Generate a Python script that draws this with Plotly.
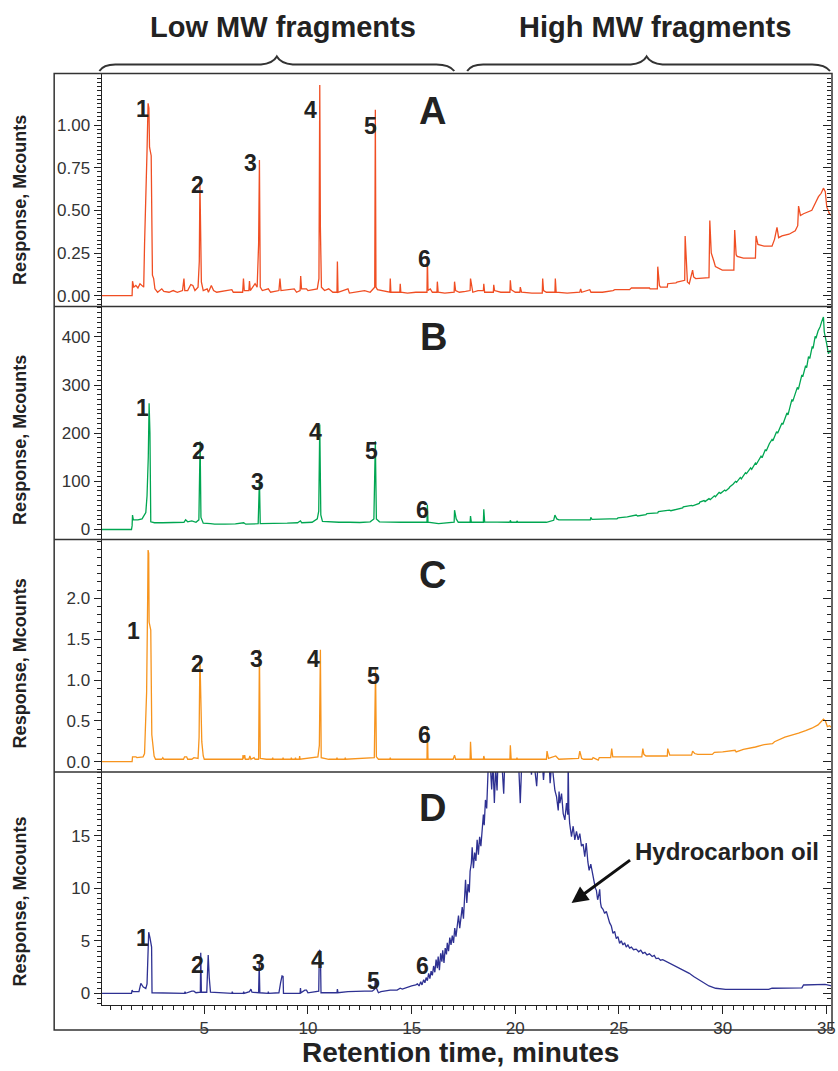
import plotly.graph_objects as go

W, H = 838, 1071
FONT = "Liberation Sans, Arial, sans-serif"

# ---------------- data (retention time in minutes, response) ----------------
tA = [0.05, 1.52, 1.54, 1.60, 1.70, 1.80, 1.90, 2.00, 2.08, 2.12, 2.18, 2.24, 2.29, 2.33, 2.36, 2.44, 2.50, 2.56, 2.62,
      2.75, 2.95, 3.05, 3.30, 3.50, 3.70, 3.95, 4.02, 4.06, 4.20, 4.35, 4.45, 4.55, 4.70, 4.76, 4.79, 4.82, 4.86, 4.95,
      5.14, 5.20, 5.34, 5.45, 5.60, 6.33, 6.40, 6.85, 6.89, 6.93, 7.15, 7.18, 7.22, 7.45, 7.55, 7.62, 7.66, 7.70, 7.80,
      8.09, 8.20, 8.60, 8.65, 8.70, 9.34, 9.45, 9.62, 9.65, 9.69, 9.93, 10.00, 10.45, 10.53, 10.57, 10.60, 10.65, 10.80,
      11.00, 11.20, 11.40, 11.42, 11.45, 11.93, 12.00, 12.73, 13.00, 13.15, 13.22, 13.25, 13.28, 13.35, 13.52, 13.95,
      13.97, 14.00, 14.43, 14.45, 14.48, 14.80, 15.20, 15.74, 15.76, 15.79, 15.90, 16.00, 16.22, 16.24, 16.28, 16.60,
      17.05, 17.07, 17.12, 17.30, 17.60, 17.82, 17.84, 17.90, 17.95, 18.20, 18.46, 18.48, 18.52, 18.94, 18.96, 19.00,
      19.30, 19.74, 19.76, 19.80, 20.00, 20.22, 20.24, 20.30, 20.80, 21.30, 21.32, 21.36, 21.50, 21.91, 21.93, 21.97,
      22.50, 23.11, 23.15, 23.20, 23.59, 23.65, 24.20, 24.71, 24.80, 25.51, 25.60, 26.47, 26.50, 26.85, 26.87, 26.95,
      27.00, 27.33, 27.35, 27.75, 27.80, 28.17, 28.19, 28.30, 28.39, 28.55, 28.60, 28.70, 29.34, 29.38, 29.45, 29.58,
      29.65, 29.98, 30.54, 30.58, 30.65, 30.70, 31.00, 31.58, 31.61, 31.70, 32.00, 32.38, 32.50, 32.62, 32.70, 32.86,
      33.20, 33.50, 33.62, 33.66, 33.75, 33.90, 34.30, 34.50, 34.62, 34.75, 34.86, 34.95, 35.02, 35.15, 35.26]
vA = [0.0, 0.0, 0.085, 0.05, 0.06, 0.045, 0.07, 0.06, 0.05, 0.30, 0.52, 0.85, 1.127, 1.10, 0.87, 0.82, 0.12, 0.10, 0.04,
      0.02, 0.04, 0.025, 0.02, 0.03, 0.02, 0.03, 0.10, 0.03, 0.03, 0.065, 0.06, 0.03, 0.05, 0.20, 0.67, 0.50, 0.08, 0.03,
      0.04, 0.02, 0.06, 0.03, 0.02, 0.035, 0.02, 0.02, 0.10, 0.03, 0.03, 0.085, 0.03, 0.07, 0.05, 0.30, 0.795, 0.05, 0.03,
      0.04, 0.02, 0.03, 0.10, 0.03, 0.04, 0.02, 0.03, 0.115, 0.04, 0.04, 0.03, 0.04, 0.10, 1.234, 0.40, 0.05, 0.03,
      0.04, 0.02, 0.02, 0.20, 0.02, 0.04, 0.015, 0.03, 0.02, 0.04, 0.05, 1.09, 0.05, 0.035, 0.03, 0.02,
      0.10, 0.02, 0.02, 0.07, 0.02, 0.015, 0.02, 0.02, 0.23, 0.03, 0.04, 0.02, 0.02, 0.082, 0.02, 0.015,
      0.02, 0.082, 0.03, 0.02, 0.025, 0.03, 0.10, 0.04, 0.02, 0.03, 0.03, 0.07, 0.02, 0.02, 0.063, 0.03,
      0.02, 0.02, 0.09, 0.035, 0.02, 0.02, 0.05, 0.02, 0.015, 0.015, 0.10, 0.03, 0.02, 0.02, 0.10, 0.02,
      0.015, 0.02, 0.04, 0.02, 0.035, 0.02, 0.02, 0.03, 0.035, 0.035, 0.045, 0.045, 0.04, 0.04, 0.17, 0.06,
      0.05, 0.05, 0.07, 0.075, 0.08, 0.09, 0.35, 0.08, 0.07, 0.15, 0.11, 0.10, 0.105, 0.44, 0.25, 0.20,
      0.17, 0.15, 0.15, 0.385, 0.24, 0.23, 0.22, 0.22, 0.35, 0.30, 0.29, 0.29, 0.33, 0.40, 0.34, 0.35,
      0.36, 0.38, 0.41, 0.525, 0.47, 0.48, 0.50, 0.55, 0.58, 0.60, 0.63, 0.61, 0.52, 0.48, 0.47]

tB = [0.05, 1.49, 1.52, 1.54, 1.58, 1.80, 2.00, 2.10, 2.18, 2.24, 2.30, 2.34, 2.38, 2.42, 2.60, 3.00, 3.50, 4.02, 4.10,
      4.20, 4.40, 4.60, 4.74, 4.80, 4.84, 4.95, 5.30, 5.50, 6.00, 6.50, 6.90, 7.00, 7.60, 7.66, 7.70, 8.00, 8.50, 9.00,
      9.50, 9.64, 9.70, 10.20, 10.45, 10.52, 10.57, 10.62, 10.70, 11.00, 11.50, 12.00, 12.50, 13.00, 13.18, 13.25,
      13.30, 13.45, 14.00, 14.50, 15.00, 15.74, 15.76, 15.79, 16.30, 16.50, 16.80, 17.05, 17.07, 17.15, 17.25, 17.82,
      17.84, 17.88, 18.46, 18.48, 18.52, 19.20, 19.74, 19.76, 19.80, 20.06, 20.08, 20.12, 21.50, 21.85, 21.91, 22.00,
      22.10, 23.00, 23.62, 23.64, 23.70, 24.55, 24.90, 24.95, 25.35, 25.40, 25.83, 25.90, 26.30, 26.35, 26.87, 26.90,
      27.43, 27.50, 28.07, 28.10, 28.50, 28.55, 28.87, 28.90, 29.10, 29.15, 29.34, 29.40, 29.60, 29.65, 29.83, 29.90,
      30.10, 30.15, 30.31, 30.35, 30.50, 30.62, 30.67, 30.85, 30.90, 31.10, 31.15, 31.35, 31.40, 31.58, 31.63, 31.85,
      31.90, 32.06, 32.10, 32.25, 32.38, 32.42, 32.60, 32.65, 32.86, 32.90, 33.10, 33.15, 33.34, 33.38, 33.60, 33.65,
      33.82, 33.86, 34.00, 34.05, 34.14, 34.20, 34.32, 34.36, 34.46, 34.50, 34.60, 34.70, 34.78, 34.86, 34.90, 34.96,
      35.02, 35.10, 35.18, 35.26]
vB = [0, 0, 8, 30, 20, 20, 22, 30, 35, 70, 150, 262, 200, 16, 14, 14, 14, 15, 20,
      16, 18, 15, 20, 183, 25, 13, 12, 11, 11, 11.5, 14, 11, 12, 104, 12, 12, 12, 13,
      14, 18, 14, 15, 22, 38, 218, 30, 17, 16, 15, 15, 14.5, 16, 22, 183,
      22, 16, 15, 15, 15, 15, 51, 15, 12, 13, 15, 15, 40, 22, 15, 15,
      28, 15, 15, 42, 16, 15, 15, 19, 15, 15, 18, 15, 15, 19, 30, 22,
      20, 20, 20, 25, 21, 22, 22, 24, 24.5, 26, 30, 28, 31, 33, 34.5, 37,
      40, 39, 45, 47, 50, 49, 54, 57, 60, 58, 64, 62, 70, 68, 77, 75,
      82, 80, 86, 89, 94, 100, 98, 108, 105, 118, 116, 128, 125, 138, 136, 152,
      149, 166, 163, 178, 187, 184, 203, 200, 221, 218, 242, 238, 270, 266, 295, 291,
      321, 317, 340, 336, 359, 355, 380, 376, 401, 397, 412, 421, 432, 441, 410, 400,
      385, 365, 372, 365]

tC = [0.05, 1.52, 1.54, 1.70, 1.75, 2.05, 2.12, 2.16, 2.22, 2.27, 2.29, 2.32, 2.34, 2.42, 2.47, 2.52, 2.58, 2.65, 2.95,
      3.00, 3.05, 4.00, 4.05, 4.15, 4.20, 4.40, 4.50, 4.70, 4.75, 4.79, 4.83, 4.88, 4.95, 5.00, 6.85, 6.87, 6.90, 6.95,
      6.98, 7.15, 7.20, 7.25, 7.40, 7.45, 7.62, 7.66, 7.70, 8.00, 8.28, 8.30, 8.32, 8.78, 8.80, 8.82, 9.18, 9.20, 9.22,
      9.38, 9.40, 9.42, 9.58, 9.60, 9.62, 10.48, 10.55, 10.60, 10.64, 11.00, 11.38, 11.40, 11.42, 11.78, 11.80, 11.82,
      13.20, 13.26, 13.30, 13.40, 13.95, 13.97, 13.99, 15.74, 15.76, 15.79, 17.00, 17.07, 17.12, 17.82, 17.84, 17.88,
      18.46, 18.48, 18.52, 19.74, 19.76, 19.80, 20.06, 20.08, 20.10, 21.50, 21.53, 21.60, 21.95, 22.10, 23.05, 23.11,
      23.20, 23.30, 23.70, 23.75, 24.00, 24.05, 24.60, 24.65, 24.70, 26.10, 26.15, 26.20, 26.30, 27.33, 27.35, 27.45,
      28.50, 28.55, 28.65, 28.80, 29.50, 29.60, 30.00, 30.60, 30.65, 31.00, 31.58, 32.00, 32.40, 32.50, 33.00, 33.30,
      33.66, 34.00, 34.30, 34.60, 34.80, 34.86, 34.95, 35.05, 35.15, 35.26]
vC = [0.0, 0.0, 0.06, 0.06, 0.05, 0.06, 0.10, 0.45, 0.85, 2.0, 2.59, 2.55, 1.71, 1.61, 0.33, 0.20, 0.07, 0.03, 0.03,
      0.05, 0.03, 0.03, 0.06, 0.06, 0.03, 0.03, 0.05, 0.04, 0.30, 1.29, 0.85, 0.245, 0.07, 0.03, 0.03, 0.08, 0.04, 0.08,
      0.03, 0.03, 0.07, 0.03, 0.05, 0.03, 0.03, 1.37, 0.04, 0.03, 0.03, 0.05, 0.03, 0.03, 0.05, 0.03, 0.03, 0.05, 0.03,
      0.03, 0.05, 0.03, 0.03, 0.07, 0.03, 0.06, 0.20, 1.37, 0.05, 0.03, 0.03, 0.05, 0.03, 0.03, 0.05, 0.03,
      0.05, 1.16, 0.06, 0.03, 0.03, 0.05, 0.03, 0.03, 0.43, 0.03, 0.03, 0.08, 0.03, 0.03, 0.245, 0.03,
      0.03, 0.07, 0.03, 0.03, 0.20, 0.03, 0.03, 0.05, 0.03, 0.03, 0.13, 0.04, 0.07, 0.03, 0.04, 0.13,
      0.04, 0.03, 0.03, 0.05, 0.02, 0.05, 0.05, 0.16, 0.06, 0.06, 0.16, 0.09, 0.07, 0.07, 0.16, 0.08,
      0.08, 0.13, 0.10, 0.09, 0.09, 0.115, 0.12, 0.14, 0.12, 0.15, 0.18, 0.21, 0.22, 0.245, 0.30, 0.32,
      0.35, 0.38, 0.41, 0.45, 0.50, 0.52, 0.50, 0.43, 0.44, 0.42]

tD = [0.05, 1.49, 1.52, 1.56, 1.85, 1.94, 2.06, 2.18, 2.24, 2.28, 2.32, 2.38, 2.42, 2.46, 2.48, 3.50, 4.05, 4.07, 4.10,
      4.40, 4.50, 4.60, 4.81, 4.83, 4.86, 5.12, 5.16, 5.19, 5.24, 5.30, 6.33, 6.35, 6.38, 6.88, 6.90, 6.92, 7.18,
      7.25, 7.30, 7.62, 7.65, 7.68, 8.07, 8.09, 8.11, 8.60, 8.68, 8.75, 8.80, 8.82, 9.62, 9.64, 9.66, 9.85, 9.93,
      10.00, 10.52, 10.55, 10.60, 10.63, 11.40, 11.42, 11.45, 11.93, 12.73, 13.10, 13.22, 13.25, 13.30, 13.40, 13.52,
      13.97, 14.30, 14.45, 14.55, 14.80, 15.00, 15.20,
      15.28, 15.36, 15.44, 15.50, 15.58, 15.64, 15.70, 15.76, 15.82, 15.88, 15.94, 16.00, 16.06, 16.12, 16.18, 16.24,
      16.28, 16.34, 16.40, 16.46, 16.50, 16.56, 16.62, 16.68, 16.72, 16.78, 16.84, 16.90, 16.96, 17.02, 17.08, 17.14,
      17.20, 17.26, 17.32, 17.38, 17.44, 17.50, 17.56, 17.60, 17.66, 17.72, 17.78, 17.82, 17.88, 17.92, 17.98, 18.04,
      18.10, 18.16, 18.22, 18.28, 18.34, 18.40, 18.46, 18.50, 18.56, 18.62, 18.66, 18.72, 18.80, 18.86, 18.92, 18.99,
      19.05, 19.12, 19.18, 19.26, 19.32, 19.38, 19.44, 19.50, 19.58, 19.66, 19.74, 19.82, 19.90, 19.98, 20.06, 20.14,
      20.20, 20.24, 20.30, 20.38, 20.46, 20.54, 20.62, 20.70, 20.78, 20.86, 20.94, 21.03, 21.10, 21.18, 21.26, 21.36,
      21.44, 21.52, 21.60, 21.68, 21.76, 21.84, 21.91, 21.99, 22.07, 22.11, 22.15, 22.23, 22.31, 22.39, 22.47, 22.53,
      22.55, 22.58, 22.62, 22.71, 22.79, 22.87, 22.95, 23.03, 23.11, 23.19, 23.27, 23.35, 23.42, 23.50, 23.56, 23.64,
      23.72, 23.80, 23.86, 23.91, 23.97, 24.03, 24.07, 24.11, 24.15, 24.23, 24.31, 24.39, 24.47, 24.55, 24.63, 24.71,
      24.79, 24.87, 24.95, 25.03, 25.11, 25.19, 25.27, 25.35, 25.43, 25.51, 25.60, 25.70, 25.83, 25.95, 26.05, 26.15,
      26.25, 26.35, 26.47, 26.60, 26.70, 26.79, 26.90, 27.00, 27.11, 27.30, 27.51, 27.70, 27.91, 28.10, 28.39, 28.60,
      28.87, 29.10, 29.34, 29.66, 30.14, 32.22, 32.38, 33.82, 33.90, 34.94, 35.18, 35.26]
vD = [0.0, 0.0, 0.3, 0.15, 0.15, 0.95, 0.6, 0.45, 0.9, 3.0, 5.81, 5.3, 4.6, 4.4, 0.05, 0.0, 0.0, 0.15, 0.0,
      0.2, 0.2, 0.05, 0.1, 3.86, 0.1, 0.1, 2.0, 3.65, 1.5, 0.1, 0.0, 0.16, 0.0, 0.0, 0.16, 0.0, 0.16,
      0.4, 0.1, 0.05, 2.83, 0.05, 0.0, 0.16, 0.0, 0.05, 1.0, 1.65, 1.6, 0.0, 0.0, 0.5, 0.05, 0.3, 0.3,
      0.05, 0.2, 4.12, 4.0, 0.05, 0.05, 0.4, 0.05, 0.16, 0.2, 0.2, 0.4, 1.33, 0.5, 0.05, 0.15,
      0.3, 0.3, 0.48, 0.4, 0.6, 0.7, 0.8,
      0.9, 0.7, 1.1, 0.8, 1.3, 1.0, 1.5, 1.2, 1.9, 1.4, 2.1, 1.7, 2.6, 2.0, 3.2, 2.4,
      3.5, 2.2, 3.8, 3.0, 4.1, 2.9, 4.3, 3.7, 4.8, 4.0, 5.3, 4.6, 5.5, 4.8, 6.2, 5.4,
      6.6, 7.4, 6.2, 7.0, 8.2, 7.1, 9.8, 10.8, 8.6, 10.4, 9.6, 11.6, 12.4, 13.9, 11.9, 13.4,
      12.6, 14.6, 13.2, 14.9, 14.0, 15.6, 17.0, 16.0, 18.4, 17.6, 20.2, 23.0, 21.5, 19.4, 22.0, 18.1,
      21.5, 19.3, 23.0, 21.2, 23.0, 20.5, 19.0, 22.5, 21.3, 23.0, 21.6, 23.0, 22.0, 23.0, 21.4, 22.8,
      20.6, 18.1, 21.5, 23.0, 21.2, 23.0, 21.3, 22.5, 20.8, 23.0, 21.3, 19.7, 22.0, 21.0, 23.0, 20.3,
      22.4, 21.2, 23.0, 20.0, 22.0, 20.6, 19.3, 18.7, 17.4, 19.2, 18.1, 19.0, 17.1, 16.5, 18.1, 17.0,
      22.0, 17.5, 16.2, 14.9, 15.9, 14.6, 15.4, 14.6, 15.2, 14.0, 14.2, 13.0, 14.3, 12.5, 11.7, 12.3,
      11.4, 10.7, 10.0, 9.8, 8.9, 9.4, 9.9, 8.6, 8.2, 8.0, 7.6, 7.8, 7.2, 6.7, 6.4, 5.7,
      5.9, 5.2, 5.4, 4.76, 5.0, 4.6, 4.8, 4.4, 4.6, 4.3, 4.4, 4.15, 4.2, 3.95, 4.1, 3.8,
      3.9, 3.65, 3.75, 3.5, 3.6, 3.3, 3.35, 3.15, 3.2, 3.0, 2.86, 2.6, 2.38, 2.2, 1.9, 1.6,
      1.27, 0.95, 0.7, 0.48, 0.38, 0.38, 0.48, 0.52, 0.79, 0.85, 0.7, 0.7]

# tick labels
ticksA = [0.0, 0.25, 0.5, 0.75, 1.0]
ticksB = [0, 100, 200, 300, 400]
ticksC = [0.0, 0.5, 1.0, 1.5, 2.0]
ticksD = [0, 5, 10, 15]
peak_names = ["1", "2", "3", "4", "5", "6"]
# peak-label anchor points (time, response) per panel
labA_t = [2.0, 4.65, 7.25, 10.1, 13.0, 15.6];   labA_v = [1.094, 0.648, 0.78, 1.09, 0.995, 0.214]
labB_t = [2.02, 4.74, 7.55, 10.38, 13.07, 15.52]; labB_v = [253, 164, 97.6, 202, 164, 40.5]
labC_t = [1.59, 4.66, 7.53, 10.29, 13.17, 15.6]; labC_v = [1.60, 1.195, 1.257, 1.257, 1.055, 0.327]
labD_t = [2.02, 4.66, 7.6, 10.47, 13.17, 15.52]; labD_v = [5.31, 2.69, 2.86, 3.17, 1.19, 2.6]

# ---------------- layout helpers ----------------
def fx(x):
    return x / W


def fy(y):
    return 1 - y / H


colA, colB, colC, colD = "#F04E23", "#00A651", "#F7941D", "#2E3192"
AX = "#222222"

XDOM = [fx(102.3), fx(836)]
XR = [0.053, 35.225]
panels = [  # (top px, bottom px, y range, tickvals, minor dtick, tickformat)
    (73.5, 306.5, [-0.0635, 1.302], ticksA, 0.025, ".2f"),
    (306.5, 539.5, [-20.8, 463], ticksB, 10, "d"),
    (539.5, 772, [-0.126, 2.72], ticksC, 0.1, ".1f"),
    (772, 1004.5, [-1.066, 21.06], ticksD, 0.5, "d"),
]

fig = go.Figure()
data = [(tA, vA, colA), (tB, vB, colB), (tC, vC, colC), (tD, vD, colD)]
for i, (t, v, c) in enumerate(data):
    sx = "x" if i == 0 else f"x{i+1}"
    sy = "y" if i == 0 else f"y{i+1}"
    fig.add_trace(go.Scatter(x=t, y=v, mode="lines", line=dict(color=c, width=1.3),
                             xaxis=sx, yaxis=sy, hoverinfo="skip", showlegend=False))
# empty traces to register the right-hand tick axes
for i in range(4):
    sx = "x" if i == 0 else f"x{i+1}"
    fig.add_trace(go.Scatter(x=[], y=[], xaxis=sx, yaxis=f"y{i+5}", showlegend=False))

layout = dict(width=W, height=H, margin=dict(l=0, r=0, t=0, b=0), autosize=False,
              paper_bgcolor="white", plot_bgcolor="white", showlegend=False,
              font=dict(family=FONT, color="#222"))

for i, (top, bot, yr, tv, mdt, tf) in enumerate(panels):
    xn = "xaxis" if i == 0 else f"xaxis{i+1}"
    yn = "yaxis" if i == 0 else f"yaxis{i+1}"
    xa = "x" if i == 0 else f"x{i+1}"
    ya = "y" if i == 0 else f"y{i+1}"
    dom = [fy(bot), fy(top)]
    if i < 3:
        layout[xn] = dict(domain=XDOM, range=XR, anchor=ya, showticklabels=False, ticks="",
                          showline=False, showgrid=False, zeroline=False)
    else:
        layout[xn] = dict(domain=XDOM, range=XR, anchor=ya, showline=True, linecolor=AX, linewidth=1.2,
                          ticks="outside", ticklen=8, tickwidth=1.1, tickcolor=AX,
                          tickmode="linear", tick0=0, dtick=5, ticklabeloverflow="allow",
                          minor=dict(ticks="outside", ticklen=4, tickcolor=AX, tickwidth=1,
                                     tickmode="linear", tick0=0, dtick=0.5, showgrid=False),
                          tickfont=dict(size=17, color="#333", family=FONT),
                          showgrid=False, zeroline=False)
    layout[yn] = dict(domain=dom, range=yr, anchor=xa, showline=True, linecolor=AX, linewidth=1.2,
                      ticks="outside", ticklen=7, tickwidth=1.1, tickcolor=AX,
                      tickmode="array", tickvals=tv, tickformat=tf,
                      minor=dict(ticks="outside", ticklen=4, tickcolor=AX, tickwidth=0.8,
                                 tickmode="linear", tick0=0, dtick=mdt, showgrid=False),
                      tickfont=dict(size=17, color="#333", family=FONT),
                      showgrid=False, zeroline=False)
    layout[f"yaxis{i+5}"] = dict(overlaying=ya, side="right", anchor=xa, range=yr,
                                 showline=False, showticklabels=False,
                                 ticks="inside", ticklen=8, tickwidth=1.1, tickcolor=AX,
                                 tickmode="array", tickvals=tv,
                                 minor=dict(ticks="inside", ticklen=4, tickcolor=AX, tickwidth=0.8,
                                            tickmode="linear", tick0=0, dtick=mdt, showgrid=False),
                                 showgrid=False, zeroline=False)

# ---------------- frame & braces ----------------
shapes = []
LC = "#333333"
shapes.append(dict(type="rect", xref="paper", yref="paper", x0=fx(54.5), x1=fx(837), y0=fy(1030), y1=fy(73.5),
                   line=dict(color=LC, width=1.5)))
for ysep in (306.5, 539.5, 772):
    shapes.append(dict(type="line", xref="paper", yref="paper", x0=fx(54.5), x1=fx(837), y0=fy(ysep), y1=fy(ysep),
                       line=dict(color=LC, width=1.5)))


def P(x, y):
    return f"{fx(x):.5f},{fy(y):.5f}"


def brace(x0, x1, xm):
    return (f"M {P(x0, 71)} Q {P(x0 + 4, 64.5)} {P(x0 + 16, 64.5)} L {P(xm - 16, 64.5)} "
            f"Q {P(xm - 4, 63.5)} {P(xm, 56.5)} Q {P(xm + 4, 63.5)} {P(xm + 16, 64.5)} "
            f"L {P(x1 - 18, 64.5)} Q {P(x1 - 5, 64.5)} {P(x1, 71)}")


shapes.append(dict(type="path", xref="paper", yref="paper", path=brace(100, 457, 278.5),
                   line=dict(color=LC, width=2)))
shapes.append(dict(type="path", xref="paper", yref="paper", path=brace(470, 835, 650.5),
                   line=dict(color=LC, width=2)))
layout["shapes"] = shapes

# ---------------- annotations ----------------
ann = []
def txt(x, y, s, size, bold=True, angle=0, xref="paper", yref="paper", color="#222"):
    return dict(x=x, y=y, xref=xref, yref=yref, text=s, showarrow=False, textangle=angle,
                xanchor="center", yanchor="middle",
                font=dict(family=FONT, size=size, color=color, weight="bold" if bold else "normal"))

ann.append(txt(fx(285), fy(27), "Low MW fragments", 29))
ann.append(txt(fx(658.5), fy(27), "High MW fragments", 29))
ann.append(txt(fx(463.5), fy(1052), "Retention time, minutes", 28))
for yc in (200, 440, 663.5, 901.7):
    ann.append(txt(fx(20), fy(yc), "Response, Mcounts", 18, angle=-90))
for letter, (xc, yc) in zip("ABCD", [(435.5, 111.3), (436, 336.7), (435, 575), (435, 808)]):
    ann.append(txt(fx(xc), fy(yc), letter, 38))
for i, (lt, lv) in enumerate([(labA_t, labA_v), (labB_t, labB_v), (labC_t, labC_v), (labD_t, labD_v)]):
    xa = "x" if i == 0 else f"x{i+1}"
    ya = "y" if i == 0 else f"y{i+1}"
    for name, t, v in zip(peak_names, lt, lv):
        ann.append(txt(t, v, name, 23, xref=xa, yref=ya))
ann.append(txt(fx(731), fy(851), "Hydrocarbon oil", 24))
ann.append(dict(x=fx(575), y=fy(903), xref="paper", yref="paper", text="", showarrow=True,
                ax=60, ay=-44, axref="pixel", ayref="pixel", arrowhead=2, arrowsize=1.1,
                arrowwidth=3, arrowcolor="#111", standoff=0, startstandoff=0))
layout["annotations"] = ann

fig.update_layout(**layout)
fig.write_html("out.html")
